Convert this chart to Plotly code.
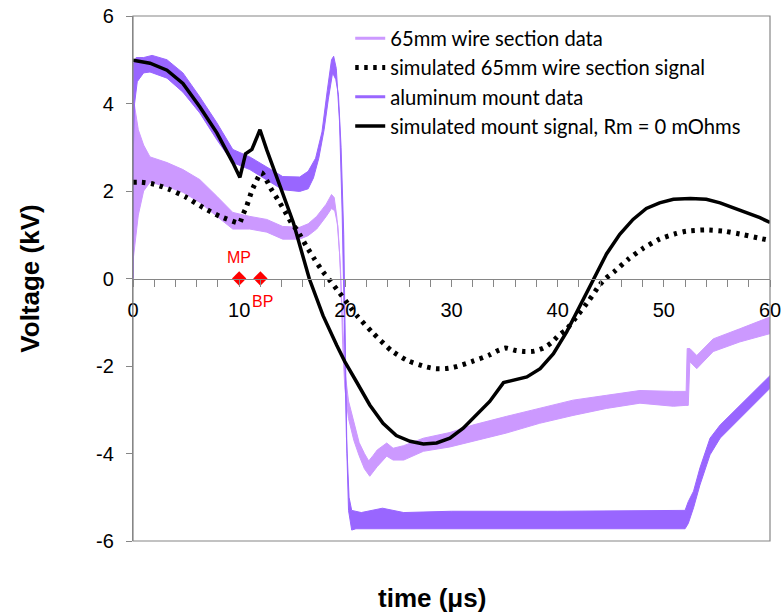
import plotly.graph_objects as go

# ---------------- data ----------------
# 65mm wire section data: noisy band, upper and lower edges
wire_up_x = [0, 0.05, 0.5, 1.0, 1.6, 3.2, 4.7, 6.3, 7.9, 9.4, 11, 12.6, 14.1, 15.7, 16.5, 17.3, 18.2, 18.7, 18.95,
             19.2, 19.45, 19.7, 19.95, 20.3, 20.8, 21.3, 21.8, 22.2, 22.6, 23.0, 23.9, 24.5, 25.5, 27.35, 29.85,
             32, 35.2, 38.3, 41.45, 44.6, 47.75, 50.9, 52.1, 52.2, 52.45, 53.1, 54.65, 57.15, 60]
wire_up_y = [0, 4.1, 3.4, 3.05, 2.78, 2.65, 2.49, 2.26, 1.88, 1.51, 1.42, 1.35, 1.19, 1.17, 1.25, 1.42, 1.7, 1.92, 1.85,
             1.4, 0.6, -0.9, -2.1, -2.8, -3.3, -3.75, -4.0, -4.17, -4.05, -3.92, -3.76, -3.88, -3.82, -3.65, -3.52,
             -3.35, -3.15, -2.97, -2.78, -2.67, -2.56, -2.58, -2.58, -1.6, -1.6, -1.76, -1.38, -1.15, -0.88]
wire_lo_x = [60, 57.15, 54.65, 53.1, 52.45, 52.3, 52.0, 50.9, 47.75, 44.6, 41.45, 38.3, 35.2, 32, 29.85, 27.35, 25.5,
             24.5, 23.9, 23.0, 22.3, 21.8, 21.3, 20.8, 20.3, 19.95, 19.75, 19.55, 19.3, 19.0, 18.7, 18.2, 17.3, 16.5,
             15.7, 14.1, 12.6, 11, 9.4, 7.9, 6.3, 4.7, 3.2, 1.6, 1.0, 0.5, 0.2, 0.05, 0]
wire_lo_y = [-1.26, -1.45, -1.67, -2.06, -1.9, -2.9, -2.9, -2.92, -2.85, -2.97, -3.13, -3.31, -3.53, -3.72, -3.85,
             -3.95, -4.15, -4.15, -4.06, -4.3, -4.52, -4.35, -4.05, -3.7, -3.2, -2.5, -1.5, 0.2, 1.2, 1.55, 1.6, 1.42,
             1.13, 0.98, 0.9, 0.9, 1.06, 1.13, 1.13, 1.42, 1.74, 1.97, 2.1, 2.2, 2.0, 1.45, 0.9, 0.5, 0]

# aluminum mount data: noisy band, upper and lower edges
mount_up_x = [0, 0.02, 0.3, 1.0, 1.8, 3.2, 4.7, 6.3, 7.9, 9.4, 11, 12.6, 14.1, 15.7, 16.5, 17.2, 17.8, 18.3, 18.7,
              18.9, 19.15, 19.45, 19.7, 19.9, 20.1, 20.35, 20.6, 21.5, 23.5, 25.5, 30, 40, 52.0, 52.3, 52.8, 53.4,
              54.35, 55.3, 57.2, 58.75, 60]
mount_up_y = [0, 4.9, 5.05, 5.05, 5.1, 5.0, 4.7, 4.15, 3.56, 2.95, 2.78, 2.55, 2.33, 2.32, 2.45, 2.75, 3.35, 4.3, 5.0,
              5.08, 4.8, 3.6, 1.5, -1.0, -3.6, -5.0, -5.3, -5.35, -5.25, -5.35, -5.32, -5.32, -5.3, -5.1, -4.86,
              -4.33, -3.65, -3.35, -2.9, -2.51, -2.22]
mount_lo_x = [60, 58.75, 57.2, 55.3, 54.35, 53.4, 52.8, 52.3, 52.0, 40, 30, 21.0, 20.6, 20.3, 20.15, 20.0, 19.85,
              19.6, 19.35, 19.1, 18.8, 18.4, 18.0, 17.5, 17.0, 16.5, 15.7, 14.1, 12.6, 11, 9.4, 7.9, 6.3, 4.7, 3.2,
              1.6, 1.0, 0.4, 0.15, 0.04, 0]
mount_lo_y = [-2.51, -2.81, -3.19, -3.65, -4.03, -4.72, -5.24, -5.6, -5.72, -5.72, -5.72, -5.72, -5.75, -5.3, -4.0,
              -1.5, 1.0, 3.0, 4.2, 4.55, 4.7, 4.1, 3.4, 2.75, 2.3, 2.05, 1.99, 2.03, 2.26, 2.49, 2.65, 3.17, 3.78,
              4.26, 4.58, 4.72, 4.7, 4.5, 4.0, 3.0, 0]

# simulated 65mm wire section signal
sim_wire_x = [0, 0.8, 1.7, 2.5, 3.5, 5.05, 6.6, 8.2, 9.76, 10.05, 10.3, 10.7, 11.2, 11.6, 12.1, 13.05, 13.65, 14.3,
              14.9, 15.5, 16.3, 17.1, 17.9, 18.5, 19.3, 20.0, 20.6, 21.2, 22.5, 24.35, 25.9, 27.6, 28.5, 29.4, 30.2,
              31.9, 33.55, 34.35, 35.1, 35.95, 36.9, 37.8, 38.65, 39.4, 40.1, 40.8, 41.85, 42.95, 43.95, 44.5, 45.3,
              46.65, 48.05, 49.6, 51.2, 52.1, 53.9, 55.7, 57.5, 59.2, 60]
sim_wire_y = [2.2, 2.2, 2.17, 2.12, 2.03, 1.85, 1.62, 1.42, 1.28, 1.27, 1.43, 1.65, 2.01, 2.22, 2.42, 2.03, 1.8, 1.54,
              1.28, 1.09, 0.75, 0.44, 0.15, -0.03, -0.28, -0.5, -0.7, -0.88, -1.22, -1.65, -1.88, -2.02, -2.06,
              -2.06, -2.03, -1.9, -1.75, -1.65, -1.59, -1.64, -1.67, -1.66, -1.59, -1.47, -1.3, -1.17, -0.85, -0.5,
              -0.15, 0.0, 0.15, 0.44, 0.69, 0.9, 1.03, 1.08, 1.11, 1.08, 1.0, 0.91, 0.87]

# simulated mount signal, Rm = 0 mOhms
sim_mount_x = [0, 1.6, 3.2, 4.7, 6.3, 7.9, 9.4, 10.07, 10.6, 11.2, 11.96, 12.6, 13.85, 15.1, 16.6, 17.9, 19.2, 19.95,
               21.05, 22.3, 23.55, 24.8, 26.1, 27.35, 28.6, 29.85, 31.1, 32.35, 33.6, 34.9, 35.8, 37.1, 38.35, 39.6,
               40.85, 42.1, 43.35, 44.6, 45.85, 47.1, 48.35, 49.6, 50.9, 52.5, 54.0, 55.3, 56.5, 57.8, 59.05, 60]
sim_mount_y = [4.99, 4.92, 4.76, 4.46, 3.92, 3.33, 2.65, 2.31, 2.85, 2.95, 3.4, 2.94, 2.11, 1.28, 0.0, -0.85, -1.53,
               -1.9, -2.36, -2.89, -3.31, -3.59, -3.72, -3.78, -3.76, -3.65, -3.42, -3.12, -2.81, -2.38, -2.32,
               -2.25, -2.06, -1.72, -1.22, -0.62, 0.0, 0.56, 1.01, 1.35, 1.6, 1.73, 1.81, 1.83, 1.81, 1.73, 1.62,
               1.5, 1.39, 1.28]

# MP / BP markers
mark_x = [10, 12]
mark_y = [0, 0]
mark_text = ["MP", "BP"]

names = ["65mm wire section data", "simulated 65mm wire section signal",
         "aluminum mount data", "simulated mount signal, Rm = 0 mOhms"]

x_ticks = [0, 10, 20, 30, 40, 50, 60]
y_ticks = [-6, -4, -2, 0, 2, 4, 6]
y_tick_text = ["-6", "-4", "-2", "0", "2", "4", "6"]

LIGHT = "#CC99FF"
DARK = "#9966FF"
AX = "#868686"
FONT = "Arial"

fig = go.Figure()

# noisy data bands
fig.add_trace(go.Scatter(x=wire_up_x + wire_lo_x, y=wire_up_y + wire_lo_y, mode="lines", fill="toself",
                         fillcolor=LIGHT, line=dict(color=LIGHT, width=1), showlegend=False, hoverinfo="skip"))
fig.add_trace(go.Scatter(x=mount_up_x + mount_lo_x, y=mount_up_y + mount_lo_y, mode="lines", fill="toself",
                         fillcolor=DARK, line=dict(color=DARK, width=1), showlegend=False, hoverinfo="skip"))

# legend carriers for the data bands
fig.add_trace(go.Scatter(x=[None], y=[None], mode="lines", name=names[0], legendrank=1,
                         line=dict(color=LIGHT, width=3)))
fig.add_trace(go.Scatter(x=[None], y=[None], mode="lines", name=names[2], legendrank=3,
                         line=dict(color=DARK, width=3)))

# simulations
fig.add_trace(go.Scatter(x=sim_wire_x, y=sim_wire_y, mode="lines", name=names[1], legendrank=2,
                         line=dict(color="black", width=5, dash="3.5px,5.5px", shape="spline", smoothing=0.6)))
fig.add_trace(go.Scatter(x=sim_mount_x, y=sim_mount_y, mode="lines", name=names[3], legendrank=4,
                         line=dict(color="black", width=3.5)))

# MP / BP markers
fig.add_trace(go.Scatter(x=mark_x, y=mark_y, mode="markers", showlegend=False,
                         marker=dict(symbol="diamond", color="red", size=11)))
for xv, yv, t, ys, xs in zip(mark_x, mark_y, mark_text, [21, -23], [0, 2]):
    fig.add_annotation(x=xv, y=yv, text=t, showarrow=False, yshift=ys, xshift=xs,
                       font=dict(color="red", size=16, family=FONT))

# x-axis title (axis itself crosses at y = 0)
fig.add_annotation(x=0.469, y=-0.108, xref="paper", yref="paper", yanchor="middle", xanchor="center",
                   text="<b>time (μs)</b>", showarrow=False, font=dict(size=26, family=FONT, color="black"))

# plot-area frame
fig.add_shape(type="rect", xref="paper", yref="paper", x0=0, y0=0, x1=1, y1=1,
              line=dict(color=AX, width=1.2), layer="above")

fig.update_layout(
    width=782, height=616,
    margin=dict(l=133, r=12, t=16, b=75, autoexpand=False),
    paper_bgcolor="white", plot_bgcolor="white",
    font=dict(family=FONT, color="black"),
    showlegend=True,
    legend=dict(x=0.341, y=0.995, xanchor="left", yanchor="top", bgcolor="rgba(0,0,0,0)",
                font=dict(family="Lato, Carlito, sans-serif", size=20.2, color="black"),
                traceorder="normal", itemwidth=30),
    xaxis=dict(range=[0, 60], tickvals=x_ticks, anchor="free", position=0.5, showline=True,
               linecolor=AX, linewidth=1.2, ticks="outside", ticklen=7, tickcolor=AX,
               minor=dict(dtick=2, ticks="outside", ticklen=7, tickcolor=AX),
               showgrid=False, zeroline=False, tickfont=dict(size=20, family=FONT),
               ticklabelstandoff=6, automargin=False),
    yaxis=dict(range=[-6, 6], tickvals=y_ticks, ticktext=y_tick_text, showline=True, linecolor=AX,
               linewidth=1.2, ticks="outside", ticklen=6, tickcolor=AX, showgrid=False, zeroline=False,
               tickfont=dict(size=20, family=FONT), ticklabelstandoff=8, automargin=False,
               title=dict(text="<b>Voltage (kV)</b>", font=dict(size=26, family=FONT), standoff=49)),
)

fig.write_html("out.html", config={"displayModeBar": False},
               post_script="document.body.style.margin='0';document.body.style.padding='0';")
